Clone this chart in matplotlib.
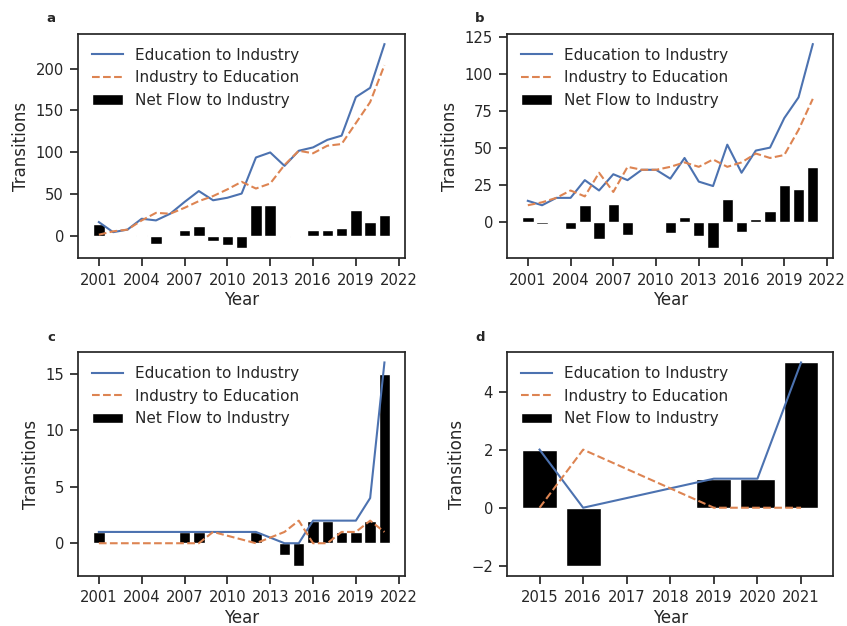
import matplotlib
matplotlib.use("Agg")
import matplotlib.pyplot as plt
import numpy as np

# ---------------- data ----------------
years_a = [2001, 2002, 2003, 2004, 2005, 2006, 2007, 2008, 2009, 2010, 2011,
           2012, 2013, 2014, 2015, 2016, 2017, 2018, 2019, 2020, 2021]
edu_to_ind_a = [17, 5, 8, 21, 19, 27, 41, 54, 43, 46, 51,
                94, 100, 84, 102, 106, 115, 120, 166, 177, 229]
ind_to_edu_a = [2, 6, 8, 19, 28, 27, 34, 42, 48, 56, 65,
                57, 63, 85, 102, 99, 108, 110, 135, 160, 204]

years_b = [2001, 2002, 2003, 2004, 2005, 2006, 2007, 2008, 2009, 2010, 2011,
           2012, 2013, 2014, 2015, 2016, 2017, 2018, 2019, 2020, 2021]
edu_to_ind_b = [14, 11, 16, 16, 28, 21, 32, 28, 35, 35, 29,
                43, 27, 24, 52, 33, 48, 50, 70, 84, 120]
ind_to_edu_b = [11, 13, 16, 21, 17, 33, 20, 37, 35, 35, 37,
                40, 37, 42, 37, 40, 46, 43, 45, 62, 83]

years_c = [2001, 2007, 2008, 2009, 2012, 2014, 2015, 2016, 2017, 2018, 2019, 2020, 2021]
edu_to_ind_c = [1, 1, 1, 1, 1, 0, 0, 2, 2, 2, 2, 4, 16]
ind_to_edu_c = [0, 0, 0, 1, 0, 1, 2, 0, 0, 1, 1, 2, 1]

years_d = [2015, 2016, 2019, 2020, 2021]
edu_to_ind_d = [2, 0, 1, 1, 5]
ind_to_edu_d = [0, 2, 0, 0, 0]

panel_labels = ["a", "b", "c", "d"]
xticks_abc = list(range(2001, 2023, 3))
xticks_d = list(range(2015, 2022))

# ---------------- style ----------------
TXT = "#262626"
plt.rcParams.update({
    "font.family": "DejaVu Sans",
    "text.color": TXT,
    "axes.labelcolor": TXT,
    "axes.edgecolor": TXT,
    "xtick.color": TXT,
    "ytick.color": TXT,
    "axes.linewidth": 1.25,
    "xtick.major.width": 1.25,
    "ytick.major.width": 1.25,
    "xtick.major.size": 5.8,
    "ytick.major.size": 5.8,
    "xtick.major.pad": 4.5,
    "ytick.major.pad": 4.5,
    "xtick.labelsize": 10.6,
    "ytick.labelsize": 10.6,
    "axes.labelsize": 12,
    "legend.fontsize": 11,
})

BLUE = "#4C72B0"
ORANGE = "#DD8452"

fig = plt.figure(figsize=(8.47, 6.26), dpi=100)
W, H = 847, 626

def rect(l, t, r, b):
    return [l / W, 1 - b / H, (r - l) / W, (b - t) / H]

positions = [
    rect(78.3, 34, 405, 258.3),
    rect(507.3, 34, 833.3, 258.3),
    rect(78.3, 352.3, 405, 576),
    rect(507.3, 352.3, 833.3, 576),
]
label_pos = [(51, 19), (480, 19), (51, 337), (480, 337)]

datasets = [
    (years_a, edu_to_ind_a, ind_to_edu_a, xticks_abc),
    (years_b, edu_to_ind_b, ind_to_edu_b, xticks_abc),
    (years_c, edu_to_ind_c, ind_to_edu_c, xticks_abc),
    (years_d, edu_to_ind_d, ind_to_edu_d, xticks_d),
]

for i, (yrs, e2i, i2e, xt) in enumerate(datasets):
    ax = fig.add_axes(positions[i])
    yrs = np.array(yrs)
    e2i = np.array(e2i)
    i2e = np.array(i2e)
    net = e2i - i2e
    ax.plot(yrs, e2i, color=BLUE, lw=1.5, label="Education to Industry", zorder=3)
    ax.plot(yrs, i2e, color=ORANGE, lw=1.5, ls="--", label="Industry to Education", zorder=3)
    ax.bar(yrs, net, width=0.8, color="black", edgecolor="white", linewidth=1.0,
           label="Net Flow to Industry", zorder=2)
    ax.set_xticks(xt)
    ax.set_xlabel("Year", labelpad=2.5)
    ax.set_ylabel("Transitions")
    ax.legend(loc="upper left", frameon=False)
    lx, ly = label_pos[i]
    fig.text(lx / W, 1 - ly / H, panel_labels[i], fontsize=9.5, fontweight="bold",
             ha="center", va="center")

fig.savefig("out.png", dpi=100)
